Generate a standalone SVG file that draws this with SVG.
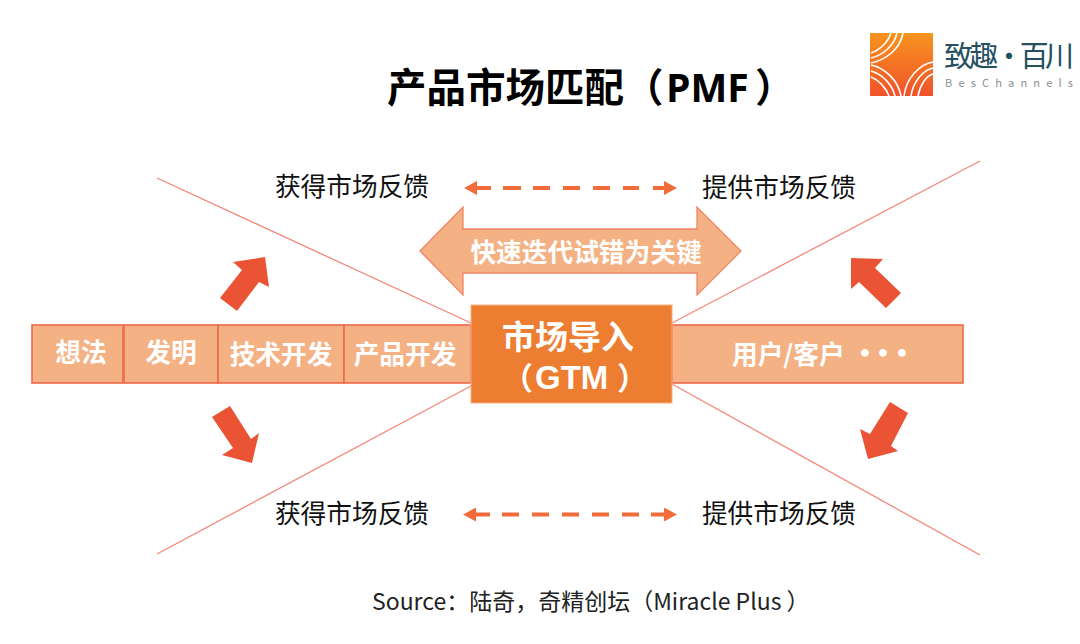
<svg xmlns="http://www.w3.org/2000/svg" width="1080" height="644" viewBox="0 0 1080 644">
<defs>
<linearGradient id="lg" x1="0" y1="0" x2="0" y2="1"><stop offset="0" stop-color="#f7941e"/><stop offset="1" stop-color="#f0522b"/></linearGradient>
<marker id="ah" viewBox="0 0 13 14" refX="1" refY="7" markerWidth="13" markerHeight="14" markerUnits="userSpaceOnUse" orient="auto-start-reverse"><path d="M0 0L13 7L0 14z" fill="#f26b3a"/></marker>
</defs>
<style>
text{font-family:"Noto Sans CJK SC","Noto Sans",sans-serif;text-spacing-trim:space-all}
.lb{font-size:25.7px;fill:#111;text-anchor:middle}
.w{font-size:25.7px;font-weight:700;fill:#fff;text-anchor:middle}
.seg{fill:#f4b183;stroke:#ee6a4c;stroke-width:1.6}
.ray{stroke:#f4877a;stroke-width:1.3;fill:none}
.dbl{stroke:#f26b3a;stroke-width:4;fill:none;marker-start:url(#ah);marker-end:url(#ah)}
.fat{fill:#ea5434}
.logo{fill:none;stroke:#fff;stroke-width:1.6}
.lat{font-family:"Open Sans",sans-serif}
.gt{font-family:"Liberation Sans","Noto Sans CJK SC",sans-serif}
</style>
<g id="title"><text y="102" font-size="39.5" font-weight="700" fill="#000"><tspan x="387">产品市场匹配（</tspan><tspan class="lat" x="666" font-size="39">PMF</tspan><tspan x="755">）</tspan></text></g>
<g id="logo">
<rect x="870" y="33" width="63" height="63" fill="url(#lg)"/>
<path class="logo" d="M903 33C900 50 885 60 871 63"/>
<path class="logo" d="M897 33C894 46 883 55 871 58"/>
<path class="logo" d="M891 33C888 42 880 50 871 53"/>
<path class="logo" d="M871 65C885 68 898 80 901 96"/>
<path class="logo" d="M871 71C882 74 892 84 895 96"/>
<path class="logo" d="M871 77C879 80 886 88 889 96"/>
<path class="logo" d="M933 62C920 64 906 78 904 96"/>
<path class="logo" d="M933 68C923 70 913 82 911 96"/>
<path class="logo" d="M933 74C926 76 920 85 918 96"/>
<text x="944" y="67" font-size="29" fill="#24505f" textLength="130" lengthAdjust="spacing">致趣·百川</text>
<text x="945" y="87" font-size="11" fill="#8a8f94" font-family="Liberation Sans" textLength="128" lengthAdjust="spacing">BesChannels</text>
</g>
<g id="connectors">
<path class="ray" d="M157 178L471 323"/>
<path class="ray" d="M157 554L471 386"/>
<path class="ray" d="M980 161L672 323"/>
<path class="ray" d="M980 555L672 384"/>
<path class="dbl" d="M476 188H491M503 188H521M533 188H550M563 188H580M593 188H610M623 188H639M653 188H665"/>
<path class="dbl" d="M475 514.5H490M502 514.5H519M532 514.5H549M562 514.5H579M592 514.5H609M622 514.5H639M651 514.5H665"/>
<path class="fat" d="M265 257L233 262L242 270L220 298L237 311L259 282L269 287z"/>
<path class="fat" d="M252 463L222 455L233 448L212 417L230 406L251 439L259 433z"/>
<path class="fat" d="M851 258L883 259L875 268L901 293L886 308L859 282L851 289z"/>
<path class="fat" d="M868 459L898 451L891 446L908 413L890 402L870 434L860 429z"/>
</g>
<g id="seg1"><rect class="seg" x="32" y="325" width="91" height="58"/><text class="w" x="81" y="362">想法</text></g>
<g id="seg2"><rect class="seg" x="124" y="325" width="94" height="58"/><text class="w" x="171" y="362">发明</text></g>
<g id="seg3"><rect class="seg" x="218" y="325" width="126" height="58"/><text class="w" x="281" y="364">技术开发</text></g>
<g id="seg4"><rect class="seg" x="344" y="325" width="127" height="58"/><text class="w" x="405" y="364">产品开发</text></g>
<g id="seg5"><rect class="seg" x="672" y="325" width="291" height="58"/><text class="w" style="text-anchor:start" y="364"><tspan x="732">用户/客户</tspan><tspan x="850 868 887" y="364" font-size="30">•••</tspan></text></g>
<g id="gtm"><rect x="471" y="305" width="201" height="98" fill="#ed7d31" stroke="#f4b183" stroke-width="1"/>
<text class="gt" font-size="33" font-weight="700" fill="#fff"><tspan x="502" y="349">市场导入</tspan><tspan x="502" y="389" font-size="31">（</tspan><tspan x="535" y="389" font-size="33">GTM</tspan><tspan x="617" y="389" font-size="31">）</tspan></text></g>
<g id="iter"><path d="M420 251L463 207V229H697V207L741 251L697 295V273H463V295z" fill="#f4b183" stroke="#f08468" stroke-width="1.3"/><text class="w" x="586" y="262">快速迭代试错为关键</text></g>
<g id="l1"><text class="lb" x="352" y="196">获得市场反馈</text></g>
<g id="l2"><text class="lb" x="779" y="197">提供市场反馈</text></g>
<g id="l3"><text class="lb" x="352" y="523">获得市场反馈</text></g>
<g id="l4"><text class="lb" x="779" y="523">提供市场反馈</text></g>
<g id="source"><text x="372" y="610" font-size="23" fill="#222">Source：陆奇，奇精创坛（Miracle Plus ）</text></g>
</svg>
